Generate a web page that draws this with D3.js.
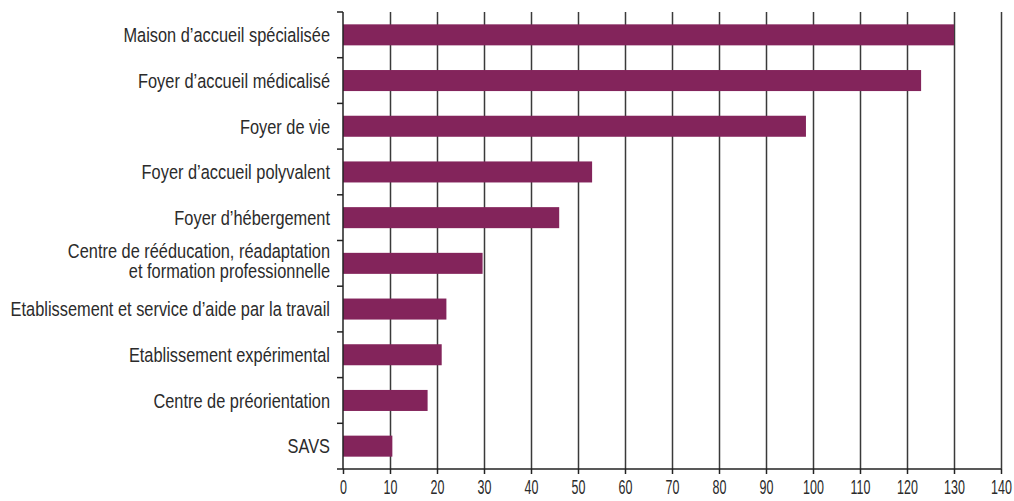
<!DOCTYPE html>
<html>
<head>
<meta charset="utf-8">
<script src="https://cdn.jsdelivr.net/npm/d3@7"></script>
<style>
  body { margin: 0; background: #fff; }
  text { font-family: "Liberation Sans", Arial, sans-serif; fill: #2b2b2b; }
</style>
</head>
<body>
<div id="chart"></div>
<script>
// Categories, top to bottom ("|" marks a line break)
const categories = [
  "Maison d\u2019accueil spécialisée",
  "Foyer d\u2019accueil médicalisé",
  "Foyer de vie",
  "Foyer d\u2019accueil polyvalent",
  "Foyer d\u2019hébergement",
  "Centre de rééducation, réadaptation|et formation professionnelle",
  "Etablissement et service d\u2019aide par la travail",
  "Etablissement expérimental",
  "Centre de préorientation",
  "SAVS"
];
const values = [130, 123, 98.5, 53, 46, 29.7, 22, 21, 18, 10.5];
const xTicks = [0, 10, 20, 30, 40, 50, 60, 70, 80, 90, 100, 110, 120, 130, 140];

const WIDTH = 1014, HEIGHT = 501;
const MARGIN = { TOP: 12, RIGHT: 13, BOTTOM: 32, LEFT: 343 };
const W = WIDTH - MARGIN.LEFT - MARGIN.RIGHT;
const H = HEIGHT - MARGIN.TOP - MARGIN.BOTTOM;

// condensed look: the installed fonts are too wide, so squeeze them horizontally
const LABEL_SQUEEZE = 0.84;
const TICK_SQUEEZE = 0.64;

const svg = d3.select("#chart").append("svg")
    .attr("width", WIDTH)
    .attr("height", HEIGHT)
  .append("g")
    .attr("transform", "translate(" + MARGIN.LEFT + "," + MARGIN.TOP + ")");

const x = d3.scaleLinear().domain([0, 140]).range([0, W]);
const y = d3.scaleBand().domain(categories).range([0, H]).paddingInner(0.54).paddingOuter(0.27);
const yb = d3.scaleBand().domain(categories).range([0, H]); // category boundaries

// Grid lines
const grid = svg.append("g")
  .attr("transform", "translate(0," + H + ")")
  .call(d3.axisBottom(x).tickValues(xTicks.slice(1)).tickSize(-H).tickFormat("").tickSizeOuter(0));
grid.select(".domain").remove();
grid.selectAll("line").attr("stroke", "#3a3a3a").attr("stroke-width", 1.5);

// Bars
svg.selectAll("rect.bar")
  .data(values)
  .enter()
  .append("rect")
    .attr("class", "bar")
    .attr("x", x(0))
    .attr("y", (d, i) => y(categories[i]))
    .attr("width", d => x(d) - x(0))
    .attr("height", y.bandwidth())
    .attr("fill", "#83245b");

// X axis
const xAxis = svg.append("g")
  .attr("transform", "translate(0," + H + ")")
  .call(d3.axisBottom(x).tickValues(xTicks).tickSize(5).tickSizeOuter(0).tickPadding(6));
xAxis.select(".domain").remove();
xAxis.selectAll("line").attr("stroke", "#222").attr("stroke-width", 1.5);
xAxis.selectAll("text")
  .attr("font-size", 19.5)
  .attr("fill", "#2b2b2b")
  .attr("transform", "scale(" + TICK_SQUEEZE + ",1)");
svg.append("line")
  .attr("x1", -6).attr("x2", x(140))
  .attr("y1", H).attr("y2", H)
  .attr("stroke", "#222").attr("stroke-width", 1.5);

// Y axis line with boundary ticks
svg.append("line")
  .attr("x1", 0).attr("x2", 0)
  .attr("y1", 0).attr("y2", H)
  .attr("stroke", "#222").attr("stroke-width", 1.5);
const bounds = categories.map(c => yb(c));
svg.selectAll("line.ytick")
  .data(bounds)
  .enter()
  .append("line")
    .attr("class", "ytick")
    .attr("x1", -6).attr("x2", 0)
    .attr("y1", d => d).attr("y2", d => d)
    .attr("stroke", "#222").attr("stroke-width", 1.5);

// Category labels
const labels = svg.selectAll("g.cat")
  .data(categories)
  .enter()
  .append("g")
    .attr("class", "cat")
    .attr("transform", d => "translate(-13," + (yb(d) + yb.bandwidth() / 2) + ")")
  .append("text")
    .attr("text-anchor", "end")
    .attr("font-size", 19.5)
    .attr("transform", "scale(" + LABEL_SQUEEZE + ",1)");

labels.each(function (d) {
  const lines = d.split("|");
  const t = d3.select(this);
  lines.forEach((line, k) => {
    t.append("tspan")
      .attr("x", 0)
      .attr("dy", k === 0 ? (7.3 - (lines.length - 1) * 12.5) + "px" : "20px")
      .text(line);
  });
});
</script>
</body>
</html>
